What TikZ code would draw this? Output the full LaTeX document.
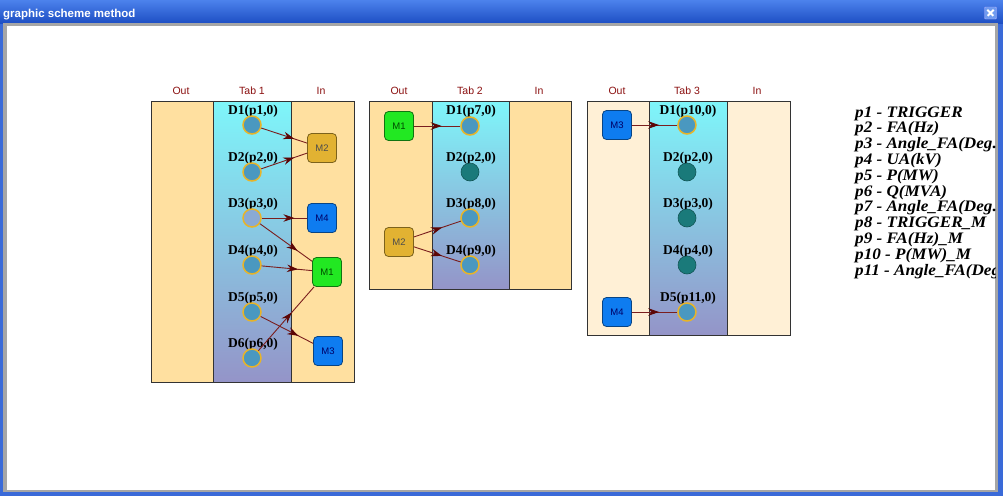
\documentclass[tikz,border=0pt]{standalone}
\usepackage{fontspec}
\setmainfont{Liberation Serif}
\newfontfamily\hdrfont{Liberation Sans}
\newfontfamily\legfont[FakeStretch=1.07]{Liberation Serif}
\usetikzlibrary{decorations.markings,arrows.meta}
\definecolor{winblue}{HTML}{3A6AD8}
\definecolor{titletop}{HTML}{4C82EC}
\definecolor{titlebot}{HTML}{1E4FC4}
\definecolor{panelor}{HTML}{FFE0A0}
\definecolor{panellt}{HTML}{FFF0D6}
\definecolor{tabtop}{HTML}{7EF6FA}
\definecolor{tabmid}{HTML}{A6D8F2}
\definecolor{tabbot}{HTML}{9494C8}
\definecolor{hdrc}{HTML}{8B1010}
\definecolor{connc}{HTML}{7A1E1E}
\definecolor{arrc}{HTML}{5C0606}
\definecolor{dfill}{HTML}{4A98C0}
\definecolor{dpalef}{HTML}{8AAAD4}
\definecolor{dring}{HTML}{E8B428}
\definecolor{tealf}{HTML}{1A7A7A}
\definecolor{mgold}{HTML}{E2B232}
\definecolor{mgreen}{HTML}{22E822}
\definecolor{mblue}{HTML}{0E7CF0}
\tikzset{
  panelline/.style={draw=black!80, line width=0.8pt},
  hdr/.style={font=\hdrfont\fontsize{10.5}{12}\selectfont, text=hdrc, inner sep=0pt},
  dlabel/.style={font=\bfseries\fontsize{13.5}{14}\selectfont, anchor=base, inner sep=0pt},
  dnode/.style={circle, minimum size=18pt, inner sep=0pt, fill=dfill, draw=dring, line width=1.5pt},
  dpale/.style={dnode, fill=dpalef},
  dteal/.style={circle, minimum size=18pt, inner sep=0pt, fill=tealf, draw=tealf!70!black, line width=0.6pt},
  mbox/.style={rectangle, rounded corners=4pt, minimum width=29pt, minimum height=29pt, inner sep=0pt, line width=0.8pt, font=\hdrfont\fontsize{9.5}{10}\selectfont},
  mg/.style={mbox, fill=mgold, draw=mgold!55!black, text=black!70},
  mgr/.style={mbox, fill=mgreen, draw=mgreen!50!black, text=black!70!green},
  mbl/.style={mbox, fill=mblue, draw=mblue!55!black, text=blue!40!black},
  conn/.style={draw=connc, line width=0.9pt, postaction={decorate},
    decoration={markings, mark=at position #1 with {\arrow{Stealth[length=11pt,width=7.5pt,color=arrc]}}}},
  conn/.default=0.72,
  legline/.style={font=\legfont\bfseries\itshape\fontsize{16}{16}\selectfont, anchor=base west, inner sep=0pt}
}
\begin{document}
\begin{tikzpicture}[x=1pt,y=-1pt]
\useasboundingbox (0,0) rectangle (1003,496);
% window frame
\fill[winblue] (0,0) rectangle (1003,496);
\shade[top color=titletop, bottom color=titlebot] (0,0) rectangle (1003,23);
\fill[black!35] (3,23) rectangle (998,492);
\fill[white] (7,26) rectangle (995,490);
\node[anchor=base west, text=white, inner sep=0pt, font=\hdrfont\bfseries\fontsize{11.5}{12}\selectfont] (title) at (3,17.5) {graphic scheme method};
\node[draw=white!70!blue, fill=titletop!80!white, rounded corners=1pt, minimum size=12pt, inner sep=0pt] (close) at (990.5,13) {};
\draw[white, line width=2pt] (close.north west) ++(3,3) -- ++(6,6) (close.north east) ++(-3,3) -- ++(-6,6);

% ---------- Tab 1 ----------
\fill[panelor] (151,101) rectangle (213,382);
\fill[panelor] (291,101) rectangle (354,382);
\shade[top color=tabtop, middle color=tabmid, bottom color=tabbot] (213,101) rectangle (291,382);
\draw[panelline] (151,101) rectangle (354,382);
\draw[panelline] (213,101) -- (213,382) (291,101) -- (291,382);
\node[hdr] (h1o) at (181,91) {Out};
\node[hdr] (h1t) at (252,91) {Tab 1};
\node[hdr] (h1i) at (321,91) {In};

\node[dlabel] (a1l) at (253,114) {D1(p1,0)};
\node[dlabel] (a2l) at (253,161) {D2(p2,0)};
\node[dlabel] (a3l) at (253,207) {D3(p3,0)};
\node[dlabel] (a4l) at (253,254) {D4(p4,0)};
\node[dlabel] (a5l) at (253,301) {D5(p5,0)};
\node[dlabel] (a6l) at (253,347) {D6(p6,0)};
\node[dnode] (a1) at (252,125) {};
\node[dnode] (a2) at (252,172) {};
\node[dpale] (a3) at (252,218) {};
\node[dnode] (a4) at (252,265) {};
\node[dnode] (a5) at (252,312) {};
\node[dnode] (a6) at (252,358) {};

\node[mg]  (b2) at (322,148) {M2};
\node[mbl] (b4) at (322,218) {M4};
\node[mgr] (b1) at (327,272) {M1};
\node[mbl] (b3) at (328,351) {M3};

\draw[conn] (a1) -- (b2);
\draw[conn] (a2) -- (b2);
\draw[conn] (a3) -- (b4);
\draw[conn] (a3) -- (b1);
\draw[conn] (a4) -- (b1);
\draw[conn] (a5) -- (b3);
\draw[conn=0.6] (a6) -- (b1);

% ---------- Tab 2 ----------
\fill[panelor] (369,101) rectangle (432,289);
\fill[panelor] (509,101) rectangle (571,289);
\shade[top color=tabtop, middle color=tabmid, bottom color=tabbot] (432,101) rectangle (509,289);
\draw[panelline] (369,101) rectangle (571,289);
\draw[panelline] (432,101) -- (432,289) (509,101) -- (509,289);
\node[hdr] (h2o) at (399,91) {Out};
\node[hdr] (h2t) at (470,91) {Tab 2};
\node[hdr] (h2i) at (539,91) {In};

\node[dlabel] (c1l) at (471,114) {D1(p7,0)};
\node[dlabel] (c2l) at (471,161) {D2(p2,0)};
\node[dlabel] (c3l) at (471,207) {D3(p8,0)};
\node[dlabel] (c4l) at (471,254) {D4(p9,0)};
\node[dnode] (c1) at (470,126) {};
\node[dteal] (c2) at (470,172) {};
\node[dnode] (c3) at (470,218) {};
\node[dnode] (c4) at (470,265) {};

\node[mgr] (e1) at (399,126) {M1};
\node[mg]  (e2) at (399,242) {M2};

\draw[conn=0.6] (e1) -- (c1);
\draw[conn=0.6] (e2) -- (c3);
\draw[conn=0.6] (e2) -- (c4);

% ---------- Tab 3 ----------
\fill[panellt] (587,101) rectangle (649,335);
\fill[panellt] (727,101) rectangle (790,335);
\shade[top color=tabtop, middle color=tabmid, bottom color=tabbot] (649,101) rectangle (727,335);
\draw[panelline] (587,101) rectangle (790,335);
\draw[panelline] (649,101) -- (649,335) (727,101) -- (727,335);
\node[hdr] (h3o) at (617,91) {Out};
\node[hdr] (h3t) at (687,91) {Tab 3};
\node[hdr] (h3i) at (757,91) {In};

\node[dlabel] (f1l) at (688,114) {D1(p10,0)};
\node[dlabel] (f2l) at (688,161) {D2(p2,0)};
\node[dlabel] (f3l) at (688,207) {D3(p3,0)};
\node[dlabel] (f4l) at (688,254) {D4(p4,0)};
\node[dlabel] (f5l) at (688,301) {D5(p11,0)};
\node[dnode] (f1) at (687,125) {};
\node[dteal] (f2) at (687,172) {};
\node[dteal] (f3) at (687,218) {};
\node[dteal] (f4) at (687,265) {};
\node[dnode] (f5) at (687,312) {};

\node[mbl] (g3) at (617,125) {M3};
\node[mbl] (g4) at (617,312) {M4};

\draw[conn=0.6] (g3) -- (f1);
\draw[conn=0.6] (g4) -- (f5);

% ---------- legend ----------
\begin{scope}
\clip (7,26) rectangle (995,490);
\node[legline] (l1)  at (855,117.0) {p1 - TRIGGER};
\node[legline] (l2)  at (855,132.8) {p2 - FA(Hz)};
\node[legline] (l3)  at (855,148.6) {p3 - Angle\_FA(Deg.,};
\node[legline] (l4)  at (855,164.4) {p4 - UA(kV)};
\node[legline] (l5)  at (855,180.2) {p5 - P(MW)};
\node[legline] (l6)  at (855,196.0) {p6 - Q(MVA)};
\node[legline] (l7)  at (855,211.8) {p7 - Angle\_FA(Deg.,};
\node[legline] (l8)  at (855,227.6) {p8 - TRIGGER\_M};
\node[legline] (l9)  at (855,243.4) {p9 - FA(Hz)\_M};
\node[legline] (l10) at (855,259.2) {p10 - P(MW)\_M};
\node[legline] (l11) at (855,275.0) {p11 - Angle\_FA(Deg};
\end{scope}
\end{tikzpicture}
\end{document}
